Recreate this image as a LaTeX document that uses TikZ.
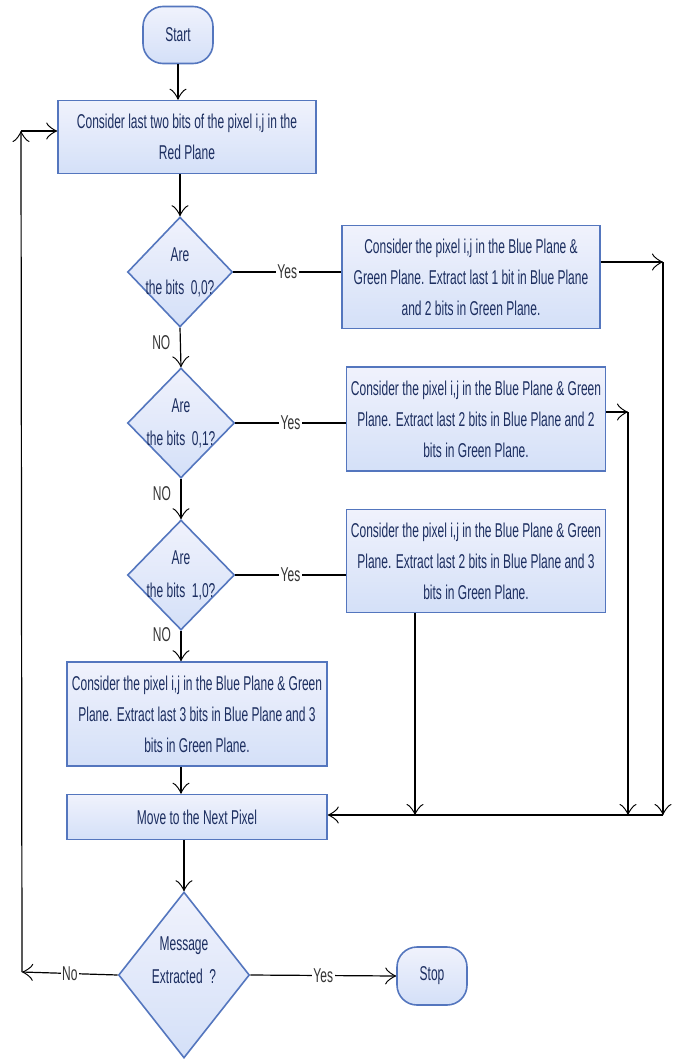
\documentclass[tikz,border=0pt]{standalone}
\usepackage{fontspec}
\newfontfamily\narrowfont{Liberation Sans}[FakeStretch=0.6]
\usetikzlibrary{shapes.geometric,arrows.meta}
\definecolor{bordc}{RGB}{84,118,190}
\definecolor{filltop}{RGB}{240,242,252}
\definecolor{fillbot}{RGB}{212,224,248}
\definecolor{txtc}{RGB}{28,46,96}
\tikzset{
  base/.style={draw=bordc, line width=1.6pt, top color=filltop, bottom color=fillbot,
    text=txtc, font=\narrowfont\fontsize{20}{31}\selectfont, align=center, inner sep=0pt},
  boxnode/.style={base, rectangle, minimum width=#1},
  term/.style={base, rectangle, rounded corners=20pt, minimum width=70pt, minimum height=57pt},
  dia/.style={base, diamond, inner sep=0pt},
  dtxt/.style={text=txtc, font=\narrowfont\fontsize{20}{33}\selectfont, align=center, inner sep=0pt},
  conn/.style={draw=black, line width=1.2pt, -{Classical TikZ Rightarrow[length=11pt,width=17pt]}},
  plain/.style={draw=black, line width=1.2pt},
  lab/.style={font=\narrowfont\fontsize{20}{22}\selectfont, text=black!80, fill=white, inner sep=1.5pt}
}
\begin{document}
\begin{tikzpicture}[x=1pt,y=-1pt]
\useasboundingbox (0,0) rectangle (673,1060);
% nodes
\node[term] (start) at (178,35) {Start};
\node[boxnode=258pt, minimum height=73pt] (b1) at (187,137) {Consider last two bits of the pixel i,j in the\\Red Plane};
\node[dia, minimum width=105pt, minimum height=110pt] (d1) at (180,272) {};
\node[dtxt] (t1) at (d1) {Are\\the bits~~0,0?};
\node[boxnode=258pt, minimum height=103pt] (b2) at (471,277) {Consider the pixel i,j in the Blue Plane \&\\Green Plane. Extract last 1 bit in Blue Plane\\and 2 bits in Green Plane.};
\node[dia, minimum width=107pt, minimum height=110pt] (d2) at (181,423) {};
\node[dtxt] (t2) at (d2) {Are\\the bits~~0,1?};
\node[boxnode=259pt, minimum height=104pt] (b3) at (476,419) {Consider the pixel i,j in the Blue Plane \& Green\\Plane. Extract last 2 bits in Blue Plane and 2\\bits in Green Plane.};
\node[dia, minimum width=107pt, minimum height=110pt] (d3) at (181,575) {};
\node[dtxt] (t3) at (d3) {Are\\the bits~~1,0?};
\node[boxnode=259pt, minimum height=103pt] (b4) at (476,561) {Consider the pixel i,j in the Blue Plane \& Green\\Plane. Extract last 2 bits in Blue Plane and 3\\bits in Green Plane.};
\node[boxnode=260pt, minimum height=104pt] (b5) at (197,714) {Consider the pixel i,j in the Blue Plane \& Green\\Plane. Extract last 3 bits in Blue Plane and 3\\bits in Green Plane.};
\node[boxnode=260pt, minimum height=45pt] (mv) at (197,817) {Move to the Next Pixel};
\node[dia, minimum width=131pt, minimum height=166pt] (d4) at (184,975) {};
\node[dtxt] (t4) at (184,960) {Message\\Extracted~~?};
\node[term, minimum height=58pt] (stop) at (432,976) {Stop};
% coordinates
\coordinate (c2) at (663,262);
\coordinate (m2) at (663,815);
\coordinate (c3) at (628,412);
\coordinate (m3) at (628,815);
\coordinate (m4) at (415,815);
\coordinate (n1) at (22,972);
\coordinate (n2) at (21,131);
% main flow
\draw[conn] (start.south) -- (start.south |- b1.north);
\draw[conn] (b1.south -| d1.north) -- (d1.north);
\draw[conn] (d1.south) -- node[pos=0.37, left=8pt, lab, fill=none] {NO} (d2.north);
\draw[conn] (d2.south) -- node[pos=0.37, left=8pt, lab, fill=none] {NO} (d3.north);
\draw[conn] (d3.south) -- node[pos=0.12, left=8pt, lab, fill=none] {NO} (d3.south |- b5.north);
\draw[conn] (b5.south -| d3.south) -- (d3.south |- mv.north);
\draw[conn] (mv.south -| d4.north) -- (d4.north);
% yes branches
\draw[plain] (d1.east) -- node[lab] {Yes} (d1.east -| b2.west);
\draw[plain] (d2.east) -- node[lab] {Yes} (d2.east -| b3.west);
\draw[plain] (d3.east) -- node[lab] {Yes} (d3.east -| b4.west);
\draw[conn] (b2.east |- c2) -- (c2);
\draw[conn] (c2) -- (m2);
\draw[conn] (b3.east |- c3) -- (c3);
\draw[conn] (c3) -- (m3);
\draw[conn] (b4.south -| m4) -- (m4);
\draw[conn] (m2) -- (mv.east |- m2);
% final decision
\draw[conn] (d4.west) -- node[lab] {No} (n1);
\draw[conn] (n1) -- (n2);
\draw[conn] (n2) -- (n2 -| b1.west);
\draw[conn] (d4.east) -- node[lab] {Yes} (stop.west);
\end{tikzpicture}
\end{document}
